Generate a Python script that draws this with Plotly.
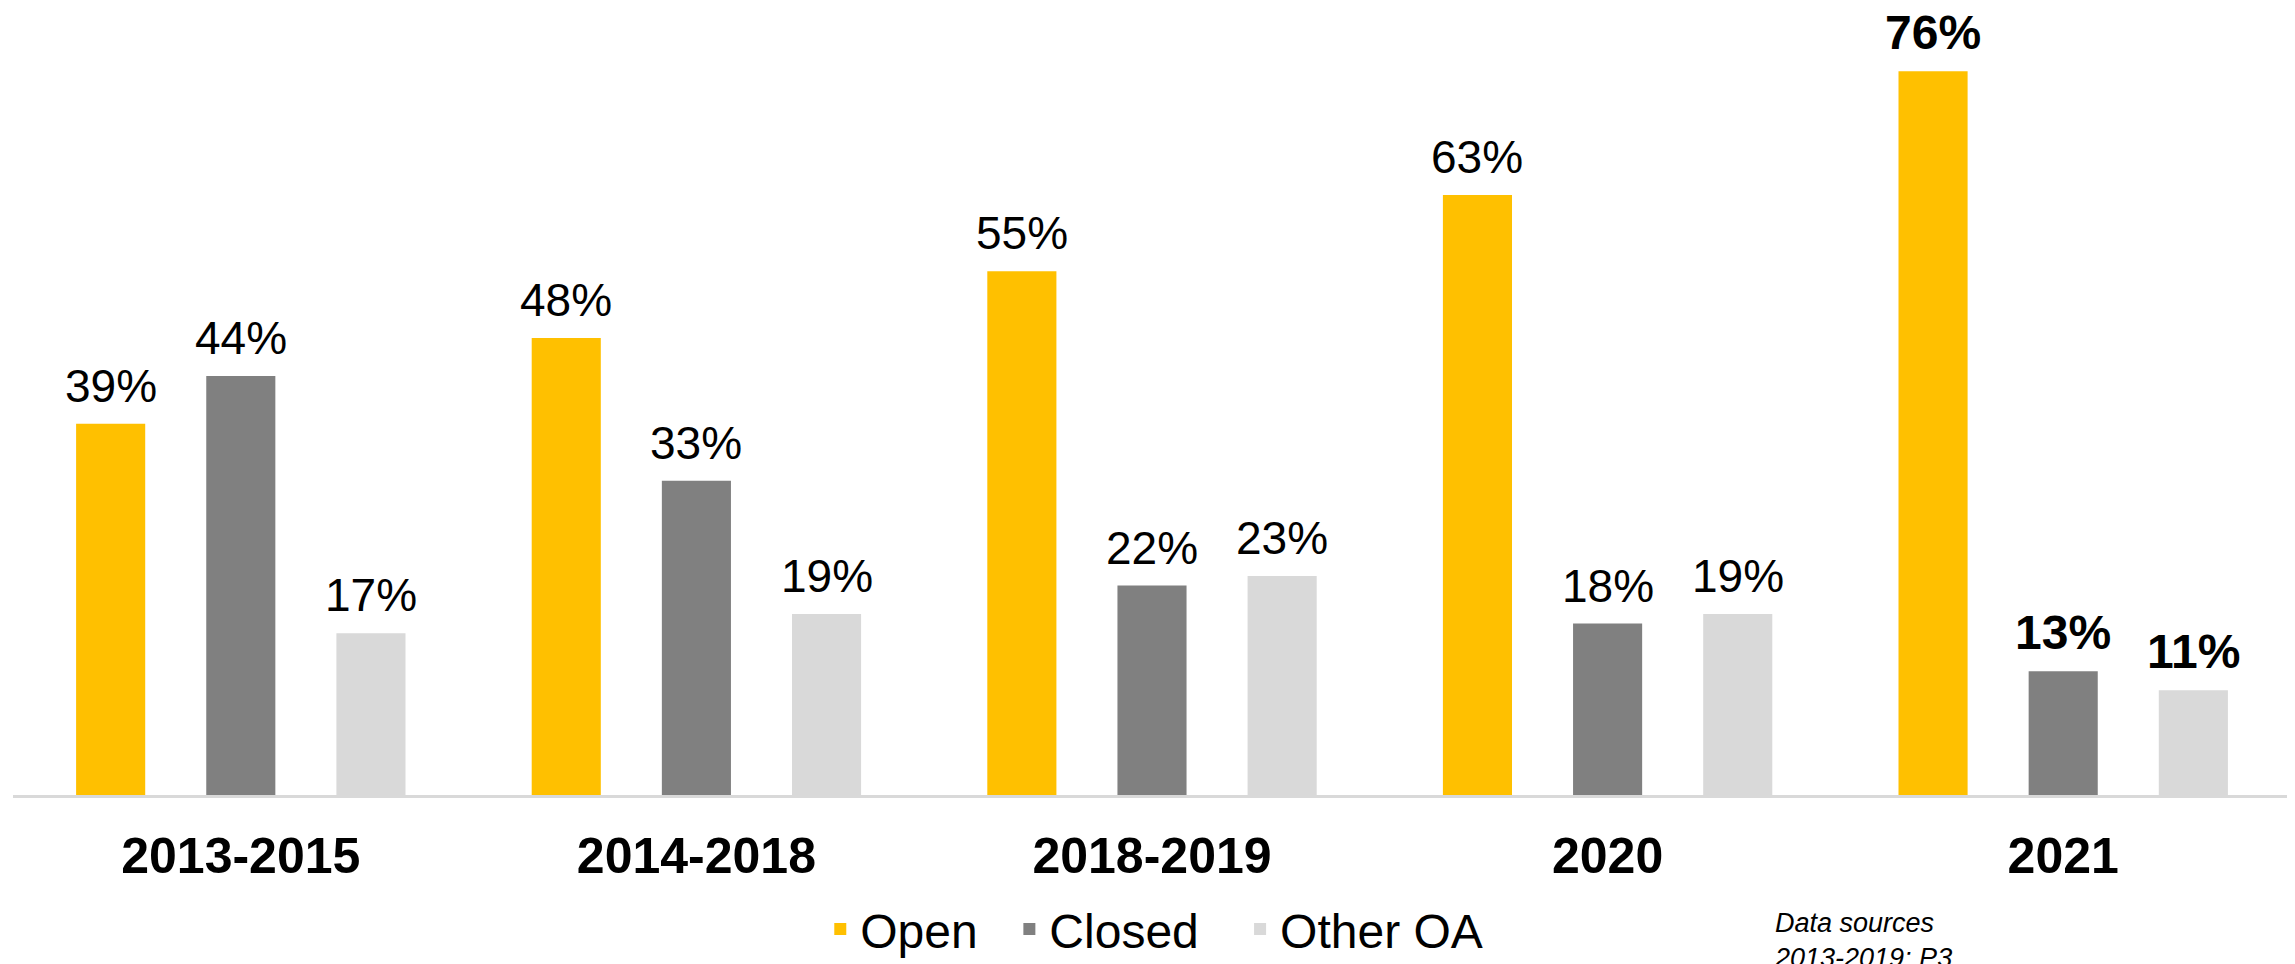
import plotly.graph_objects as go

categories = ["2013-2015", "2014-2018", "2018-2019", "2020", "2021"]
open_vals = [39, 48, 55, 63, 76]
closed_vals = [44, 33, 22, 18, 13]
other_vals = [17, 19, 23, 19, 11]
series_names = ["Open", "Closed", "Other OA"]
series_colors = ["#FFC000", "#808080", "#D9D9D9"]
bold_category = "2021"
source_note = "Data sources<br>2013-2019: P3"

FONT = "Liberation Sans, Arial, sans-serif"
LEGEND_PADS = ["\u00a0\u00a0", "\u00a0\u00a0\u2009", ""]
W, H = 2295, 964
ML, MR, MT, MB = 5, 12, 10, 161
BARGAP, GROUPGAP = 0.143, 0.469
series_vals = [open_vals, closed_vals, other_vals]

plot_w = W - ML - MR
slot_px = plot_w / len(categories) * (1 - BARGAP) / len(series_vals)

fig = go.Figure()
for i, (name, vals, col) in enumerate(zip(series_names, series_vals, series_colors)):
    fig.add_trace(go.Bar(
        name=name + LEGEND_PADS[i],
        x=categories, y=vals, marker_color=col, marker_line_width=0,
        hovertemplate="%{x}: %{y}%<extra>" + name + "</extra>",
    ))
    for j, (c, v) in enumerate(zip(categories, vals)):
        bold = c == bold_category
        fig.add_annotation(
            x=j, y=v, xref="x", yref="y", text=f"<b>{v}%</b>" if bold else f"{v}%",
            xshift=(i - (len(series_vals) - 1) / 2) * slot_px, yshift=10,
            xanchor="center", yanchor="bottom", showarrow=False,
            font=dict(family=FONT, size=48 if bold else 46, color="black"),
        )

fig.add_annotation(
    text=f"<i>{source_note}</i>", xref="paper", yref="paper",
    x=0.772, y=-0.143, xanchor="left", yanchor="top", align="left",
    showarrow=False, font=dict(family=FONT, size=27, color="black"),
)

fig.update_layout(
    width=W, height=H,
    margin=dict(l=ML, r=MR, t=MT, b=MB),
    paper_bgcolor="white", plot_bgcolor="white",
    barmode="group", bargap=BARGAP, bargroupgap=GROUPGAP,
    font=dict(family=FONT, color="black"),
    showlegend=True,
    legend=dict(orientation="h", x=0.501, xanchor="center", y=-0.173, yanchor="middle",
                font=dict(family=FONT, size=48, color="black"), itemwidth=30),
)
fig.update_xaxes(type="category", categoryorder="array", categoryarray=categories,
                 range=[-0.5, len(categories) - 0.5],
                 showline=True, linecolor="#D9D9D9", linewidth=3, ticks="",
                 tickfont=dict(family=FONT, size=50, color="black", weight="bold"),
                 ticklabelstandoff=15,
                 showgrid=False, zeroline=False)
fig.update_yaxes(range=[0, 81.6], visible=False, showgrid=False, zeroline=False)

fig.write_html("out.html")
